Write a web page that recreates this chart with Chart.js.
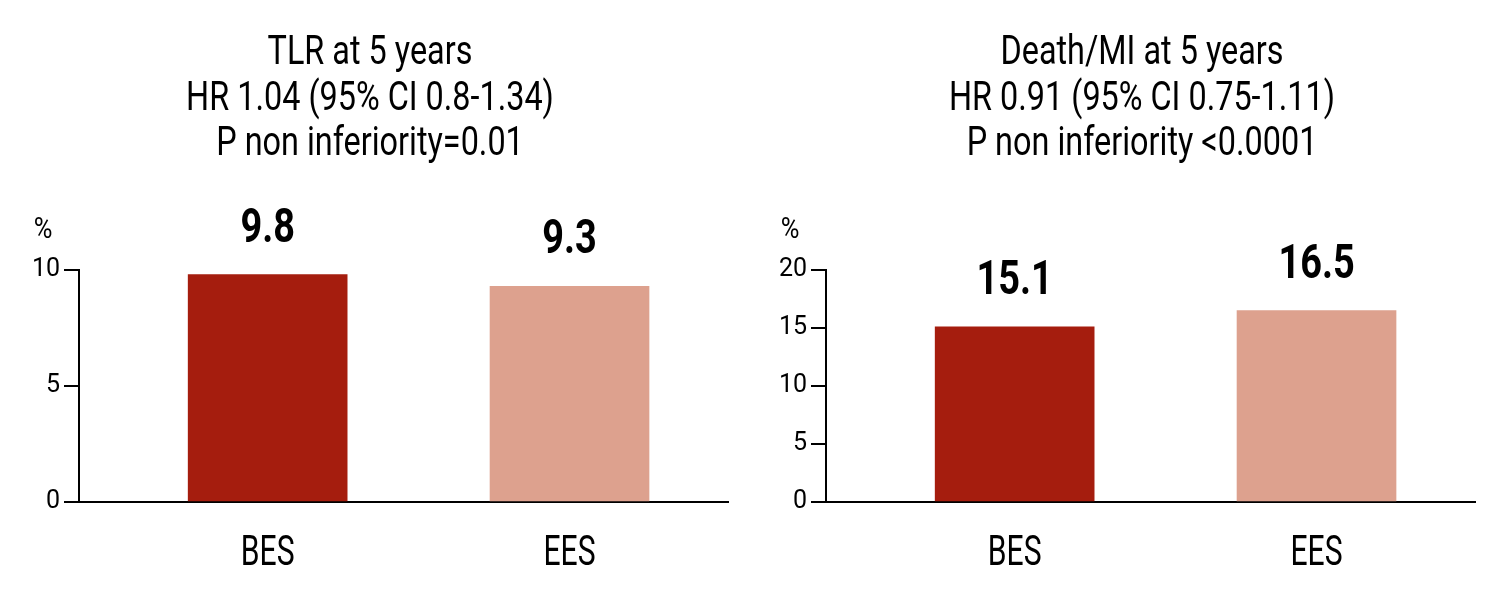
<!DOCTYPE html>
<html>
<head>
<meta charset="utf-8">
<script src="https://cdn.jsdelivr.net/npm/chart.js@4"></script>
<style>
    body { margin: 0; background: #fff; }
    .box { position: absolute; top: 0; width: 740px; height: 605px; }
</style>
</head>
<body>
<div class="box" style="left:0"><canvas id="tlrChart"></canvas></div>
<div class="box" style="left:772px"><canvas id="deathChart"></canvas></div>
<script>
const categories = ['BES', 'EES'];
const tlrValues = [9.8, 9.3];
const deathValues = [15.1, 16.5];
const tlrTitle = ['TLR at 5 years', 'HR 1.04 (95% CI 0.8-1.34)', 'P non inferiority=0.01'];
const deathTitle = ['Death/MI at 5 years', 'HR 0.91 (95% CI 0.75-1.11)', 'P non inferiority <0.0001'];
const tlrTicks = [0, 5, 10];
const deathTicks = [0, 5, 10, 15, 20];
const barColors = ['#A51D0E', '#DDA18E'];

const FONT = 'Roboto, "DejaVu Sans Condensed", sans-serif';

// the original uses a condensed face, so text is squeezed horizontally
function condensedText(ctx, text, x, y, sx) {
    ctx.save();
    ctx.translate(x, y);
    ctx.scale(sx, 1);
    ctx.fillText(text, 0, 0);
    ctx.restore();
}

const textLayer = {
    id: 'textLayer',
    afterDatasetsDraw(chart, args, opts) {
        const ctx = chart.ctx;
        const area = chart.chartArea;
        const meta = chart.getDatasetMeta(0);
        const xScale = chart.scales.x;
        ctx.save();
        ctx.fillStyle = '#000';
        ctx.textAlign = 'center';
        ctx.textBaseline = 'alphabetic';

        // title, three lines
        ctx.font = '400 41px ' + FONT;
        opts.title.forEach((line, i) => {
            condensedText(ctx, line, 370, 64 + i * 45.5, 0.79);
        });

        // values above bars
        ctx.font = 'bold 48px ' + FONT;
        meta.data.forEach((bar, i) => {
            condensedText(ctx, opts.values[i].toFixed(1), bar.x, bar.y - 33, 0.79);
        });

        // category names under the axis
        ctx.font = '400 43px ' + FONT;
        categories.forEach((c, i) => {
            condensedText(ctx, c, xScale.getPixelForValue(i), area.bottom + 63, 0.7);
        });

        // % unit above the y axis
        ctx.font = '400 30px ' + FONT;
        condensedText(ctx, '%', area.left - 36, area.top - 32, 0.85);
        ctx.restore();
    }
};

function makeChart(id, title, values, ticks, yWidth, padRight) {
    const ctx = document.getElementById(id);
    new Chart(ctx, {
        type: 'bar',
        data: {
            datasets: [{
                data: values.map((v, i) => ({ x: i, y: v })),
                backgroundColor: barColors,
                barThickness: 159
            }]
        },
        options: {
            responsive: true,
            maintainAspectRatio: false,
            animation: false,
            layout: { padding: { left: 0, right: padRight, top: 270, bottom: 95 } },
            plugins: {
                legend: { display: false },
                tooltip: { enabled: false },
                textLayer: { title: title, values: values }
            },
            scales: {
                x: {
                    type: 'linear',
                    min: -0.625,
                    max: 1.525,
                    offset: false,
                    grid: { display: false },
                    border: { display: true, color: '#000', width: 2 },
                    ticks: { display: false, stepSize: 1 }
                },
                y: {
                    min: 0,
                    max: ticks[ticks.length - 1],
                    afterFit: s => { s.width = yWidth; },
                    afterBuildTicks: s => { s.ticks = ticks.map(v => ({ value: v })); },
                    grid: { drawOnChartArea: false, drawTicks: true, tickLength: 15, color: '#000', lineWidth: 2 },
                    border: { display: true, color: '#000', width: 2 },
                    ticks: {
                        padding: 4,
                        color: '#000',
                        font: { family: FONT, size: 25, weight: '400' }
                    }
                }
            }
        },
        plugins: [textLayer]
    });
}

makeChart('tlrChart', tlrTitle, tlrValues, tlrTicks, 79, 12);
makeChart('deathChart', deathTitle, deathValues, deathTicks, 54, 37);
</script>
</body>
</html>
